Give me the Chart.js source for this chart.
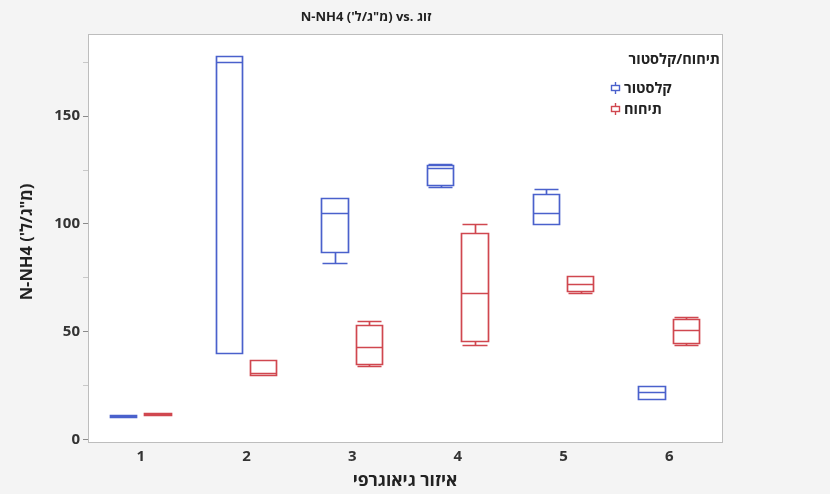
<!DOCTYPE html>
<html>
<head>
<meta charset="utf-8">
<script src="https://cdn.jsdelivr.net/npm/chart.js@4.4.1/dist/chart.umd.min.js"></script>
<style>
  html, body { margin: 0; padding: 0; background: #f4f4f4; }
  #wrap { width: 830px; height: 494px; }
</style>
</head>
<body>
<div id="wrap"><canvas id="c" width="830" height="494"></canvas></div>
<script>
// Geographic regions on the x axis
const categories = ['1', '2', '3', '4', '5', '6'];
const seriesNames = ['קלסטור', 'תיחוח'];
const seriesColors = ['#4a61cc', '#d0474f'];
const legendTitle = 'תיחוח/קלסטור';
const chartTitle = 'N-NH4 (מ"ג/ל\'\u200F) vs. זוג';
const yTitle = 'N-NH4 (מ"ג/ל\'\u200F)';
const xTitle = 'איזור גיאוגרפי';
const yTickValues = [0, 25, 50, 75, 100, 125, 150, 175];

// Box statistics per region — cluster (קלסטור)
const clusterMin    = [10.5, 40, 82, 117, 100, 19];
const clusterQ1     = [10.5, 40, 87, 118, 100, 19];
const clusterMedian = [11, 175, 105, 126, 105, 22];
const clusterQ3     = [11.5, 178, 112, 127.5, 114, 25];
const clusterMax    = [11.5, 178, 112, 128, 116, 25];

// Box statistics per region — tihuach (תיחוח)
const tihuachMin    = [11.5, 30, 34, 44, 68, 44];
const tihuachQ1     = [11.5, 30, 35, 46, 69, 45];
const tihuachMedian = [12, 31, 43, 68, 72, 51];
const tihuachQ3     = [12.5, 37, 53, 96, 76, 56];
const tihuachMax    = [12.5, 37, 55, 100, 76, 57];

const TEXT_FONT = "'Open Sans', 'DejaVu Sans', sans-serif";
Chart.defaults.font.family = TEXT_FONT;

function makeDataset(name, color, mins, q1s, meds, q3s, maxs) {
  return {
    label: name,
    data: q1s.map((q1, i) => [q1, q3s[i]]),
    backgroundColor: 'rgba(0,0,0,0)',
    borderWidth: 0,
    boxColor: color,
    stats: { min: mins, q1: q1s, median: meds, q3: q3s, max: maxs }
  };
}

const crisp = v => Math.round(v) + 0.5;

function boldText(ctx, text, x, y, size, align, rotated) {
  ctx.save();
  ctx.font = 'bold ' + size + 'px ' + TEXT_FONT;
  ctx.textAlign = align;
  ctx.textBaseline = 'middle';
  if (rotated) {
    ctx.translate(x, y);
    ctx.rotate(-Math.PI / 2);
    ctx.fillText(text, 0, 0);
  } else {
    ctx.fillText(text, x, y);
  }
  ctx.restore();
}

// Draws boxes, medians and whiskers at the positions of the bar elements
const boxPlotPlugin = {
  id: 'boxPlot',
  beforeDraw(chart) {
    const { ctx, chartArea: a } = chart;
    ctx.save();
    ctx.fillStyle = '#f4f4f4';
    ctx.fillRect(0, 0, chart.width, chart.height);
    ctx.fillStyle = '#ffffff';
    ctx.fillRect(a.left, a.top, a.right - a.left, a.bottom - a.top);
    ctx.restore();
  },
  afterDatasetsDraw(chart) {
    const { ctx } = chart;
    const y = chart.scales.y;
    chart.data.datasets.forEach((ds, di) => {
      const meta = chart.getDatasetMeta(di);
      ctx.save();
      ctx.strokeStyle = ds.boxColor;
      ctx.lineWidth = 1.7;
      meta.data.forEach((bar, j) => {
        const { x, width } = bar.getProps(['x', 'width'], true);
        const s = ds.stats;
        const left = Math.round(x - width / 2) + 0.5;
        const right = Math.round(x + width / 2) - 0.5;
        const cx = crisp(x);
        const yq1 = crisp(y.getPixelForValue(s.q1[j]));
        const yq3 = crisp(y.getPixelForValue(s.q3[j]));
        const ymed = crisp(y.getPixelForValue(s.median[j]));
        const ymin = crisp(y.getPixelForValue(s.min[j]));
        const ymax = crisp(y.getPixelForValue(s.max[j]));
        ctx.beginPath();
        ctx.rect(left, yq3, right - left, yq1 - yq3);
        ctx.moveTo(left, ymed); ctx.lineTo(right, ymed);
        if (s.max[j] > s.q3[j]) {
          ctx.moveTo(cx, yq3); ctx.lineTo(cx, ymax);
          ctx.moveTo(left + 1, ymax); ctx.lineTo(right - 1, ymax);
        }
        if (s.min[j] < s.q1[j]) {
          ctx.moveTo(cx, yq1); ctx.lineTo(cx, ymin);
          ctx.moveTo(left + 1, ymin); ctx.lineTo(right - 1, ymin);
        }
        ctx.stroke();
      });
      ctx.restore();
    });
  },
  afterDraw(chart) {
    const { ctx, chartArea: a } = chart;
    ctx.save();
    // plot frame
    ctx.strokeStyle = '#bdbdbd';
    ctx.lineWidth = 1;
    ctx.strokeRect(crisp(a.left), crisp(a.top), Math.round(a.right - a.left), Math.round(a.bottom - a.top));

    ctx.fillStyle = '#222';
    boldText(ctx, chartTitle, 366, 17, 13, 'center', false);
    boldText(ctx, xTitle, (a.left + a.right) / 2, 481, 17.5, 'center', false);
    boldText(ctx, yTitle, 27, (a.top + a.bottom) / 2 + 4, 16.5, 'center', true);

    // legend
    boldText(ctx, legendTitle, a.right - 2, 60, 14.5, 'right', false);
    chart.data.datasets.forEach((ds, i) => {
      const iy = 88 + i * 21;
      const ix = 615;
      ctx.strokeStyle = ds.boxColor;
      ctx.lineWidth = 1.4;
      ctx.beginPath();
      ctx.moveTo(ix + 0.5, iy - 6); ctx.lineTo(ix + 0.5, iy + 6);
      ctx.stroke();
      ctx.fillStyle = '#fff';
      ctx.fillRect(ix - 3.5, iy - 2.5, 8, 5);
      ctx.strokeRect(ix - 3.5, iy - 2.5, 8, 5);
      ctx.fillStyle = '#222';
      boldText(ctx, ds.label, ix + 9, iy + 1, 14.5, 'left', false);
    });
    ctx.restore();
  }
};

function build() {
  new Chart(document.getElementById('c'), {
    type: 'bar',
    data: {
      labels: categories,
      datasets: [
        makeDataset(seriesNames[0], seriesColors[0], clusterMin, clusterQ1, clusterMedian, clusterQ3, clusterMax),
        makeDataset(seriesNames[1], seriesColors[1], tihuachMin, tihuachQ1, tihuachMedian, tihuachQ3, tihuachMax)
      ]
    },
    options: {
      responsive: false,
      animation: false,
      devicePixelRatio: 1,
      layout: { padding: { left: 0, top: 34, right: 108, bottom: 0 } },
      datasets: { bar: { categoryPercentage: 0.645, barPercentage: 0.8, grouped: true } },
      plugins: {
        legend: { display: false },
        title: { display: false },
        tooltip: { enabled: false }
      },
      scales: {
        x: {
          type: 'category',
          offset: true,
          grid: { display: false, drawTicks: false },
          border: { display: false },
          ticks: { color: '#333', padding: 6, font: { size: 15, weight: 'bold' } },
          title: { display: false },
          afterFit(s) { s.height = 52; }
        },
        y: {
          type: 'linear',
          min: -1,
          max: 188,
          afterBuildTicks(s) { s.ticks = yTickValues.map(v => ({ value: v })); },
          grid: {
            drawOnChartArea: false, drawTicks: true, tickLength: 5,
            tickColor: ctx => (ctx.tick && ctx.tick.value % 50 === 0) ? '#8a8a8a' : '#c8c8c8'
          },
          border: { display: false },
          ticks: {
            color: '#333', padding: 3,
            font: { size: 15, weight: 'bold' },
            callback: v => (v % 50 === 0 ? String(v) : '')
          },
          title: { display: false },
          afterFit(s) { s.width = 88; }
        }
      }
    },
    plugins: [boxPlotPlugin]
  });
}

if (document.fonts && document.fonts.load) {
  Promise.all([
    document.fonts.load("bold 14px 'Open Sans'", 'קלסטור 150'),
    document.fonts.load("bold 14px 'DejaVu Sans'", 'קלסטור')
  ]).then(build, build);
} else {
  build();
}
</script>
</body>
</html>
